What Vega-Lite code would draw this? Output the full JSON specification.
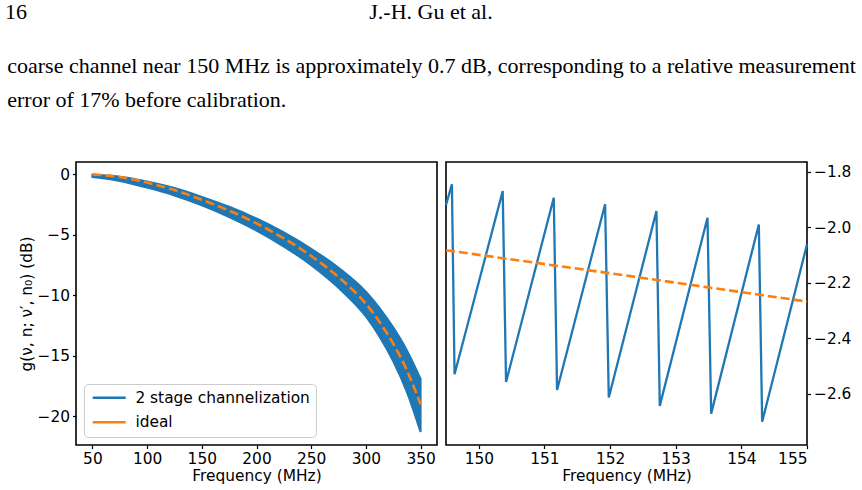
{
  "$schema": "https://vega.github.io/schema/vega-lite/v6.json",
  "background": "white",
  "padding": {"left": 5, "top": 0, "right": 0, "bottom": 0},
  "config": {
    "view": {"stroke": null},
    "axis": {
      "labelFont": "DejaVu Sans", "labelFontSize": 15.4, "labelColor": "black",
      "titleFont": "DejaVu Sans", "titleFontSize": 15.4, "titleFontWeight": "normal", "titleColor": "black",
      "tickColor": "black", "tickSize": 3.5, "tickWidth": 1.2,
      "domain": false, "grid": false, "labelPadding": 2.5, "titlePadding": 2
    },
    "axisY": {"titlePadding": 3, "labelPadding": 3},
    "legend": {"labelFont": "DejaVu Sans", "labelFontSize": 15.4, "labelColor": "black"},
    "title": {"font": "Liberation Serif", "fontWeight": "normal", "color": "black"}
  },
  "spacing": 31,
  "vconcat": [
    {
      "width": 710,
      "height": 24,
      "title": {"text": "16", "orient": "left", "angle": 0, "anchor": "middle", "align": "left", "baseline": "middle", "offset": 49, "fontSize": 22},
      "data": {"values": [{"text": "J.-H. Gu et al."}]},
      "mark": {"type": "text", "font": "Liberation Serif", "fontSize": 22, "color": "black"},
      "encoding": {"text": {"field": "text"}}
    },
    {
      "title": {
        "text": [
          "coarse channel near 150 MHz is approximately 0.7 dB, corresponding to a relative measurement",
          "error of 17% before calibration."
        ],
        "anchor": "start", "fontSize": 22, "lineHeight": 34, "offset": 49, "dx": -11
      },
      "spacing": 2,
      "resolve": {"scale": {"color": "independent"}, "legend": {"color": "independent"}},
      "hconcat": [
        {
          "width": 361,
          "height": 283,
          "view": {"stroke": "black", "strokeWidth": 1.6},
          "layer": [
            {
              "data": {"values": [
                {"freq": 50, "upper": -0.04, "lower": -0.22},
                {"freq": 75, "upper": -0.19, "lower": -0.55},
                {"freq": 100, "upper": -0.58, "lower": -1.1},
                {"freq": 125, "upper": -1.13, "lower": -1.75},
                {"freq": 150, "upper": -1.86, "lower": -2.56},
                {"freq": 175, "upper": -2.68, "lower": -3.53},
                {"freq": 200, "upper": -3.65, "lower": -4.65},
                {"freq": 225, "upper": -4.8, "lower": -5.97},
                {"freq": 250, "upper": -6.15, "lower": -7.5},
                {"freq": 275, "upper": -7.72, "lower": -9.38},
                {"freq": 300, "upper": -9.7, "lower": -11.75},
                {"freq": 312.5, "upper": -11.05, "lower": -13.42},
                {"freq": 325, "upper": -12.65, "lower": -15.45},
                {"freq": 337.5, "upper": -14.55, "lower": -18.0},
                {"freq": 350, "upper": -16.9, "lower": -21.3}
              ]},
              "mark": {"type": "area", "interpolate": "monotone", "stroke": "#1f77b4", "strokeWidth": 2, "fillOpacity": 1},
              "encoding": {
                "x": {"field": "freq", "type": "quantitative",
                      "scale": {"domain": [35, 365], "nice": false, "zero": false},
                      "axis": {"values": [50, 100, 150, 200, 250, 300, 350], "format": "d", "title": "Frequency (MHz)"}},
                "y": {"field": "upper", "type": "quantitative",
                      "scale": {"domain": [-22.37, 1.02], "nice": false, "zero": false},
                      "axis": {"values": [0, -5, -10, -15, -20], "format": "d", "title": "g(ν, n; ν′, n₀) (dB)"}},
                "y2": {"field": "lower"},
                "color": {
                  "datum": "2 stage channelization", "type": "nominal",
                  "scale": {"domain": ["2 stage channelization", "ideal"], "range": ["#1f77b4", "#ff7f0e"]},
                  "legend": {
                    "title": null, "orient": "bottom-left", "offset": 8, "padding": 6,
                    "fillColor": "rgba(255,255,255,0.8)", "strokeColor": "#cccccc", "cornerRadius": 4,
                    "symbolType": "M-1,0H5.6", "symbolSize": 100, "symbolStrokeWidth": 2.5,
                    "labelOffset": 30, "rowPadding": 7.5, "labelLimit": 400,
                    "encode": {"symbols": {"update": {
                      "stroke": [
                        {"test": "datum.value === 'ideal'", "value": "#ff7f0e"},
                        {"value": "#1f77b4"}
                      ],
                      "shape": [
                        {"test": "datum.value === 'ideal'", "value": "M-1,0H0.8M1.6,0H3.4M4.2,0H5.6"},
                        {"value": "M-1,0H5.6"}
                      ],
                      "fill": {"value": "transparent"}
                    }}}
                  }
                }
              }
            },
            {
              "data": {"values": [
                {"freq": 50, "g": 0.0},
                {"freq": 75, "g": -0.22},
                {"freq": 100, "g": -0.68},
                {"freq": 125, "g": -1.3},
                {"freq": 150, "g": -2.1},
                {"freq": 175, "g": -3.0},
                {"freq": 200, "g": -4.05},
                {"freq": 225, "g": -5.3},
                {"freq": 250, "g": -6.75},
                {"freq": 275, "g": -8.5},
                {"freq": 300, "g": -10.7},
                {"freq": 312.5, "g": -12.2},
                {"freq": 325, "g": -14.0},
                {"freq": 337.5, "g": -16.2},
                {"freq": 350, "g": -19.0}
              ]},
              "mark": {"type": "line", "interpolate": "monotone", "strokeDash": [9, 4], "strokeWidth": 2.6},
              "encoding": {
                "x": {"field": "freq", "type": "quantitative"},
                "y": {"field": "g", "type": "quantitative"},
                "color": {"datum": "ideal", "type": "nominal"}
              }
            }
          ]
        },
        {
          "width": 361,
          "height": 283,
          "view": {"stroke": "black", "strokeWidth": 1.6},
          "layer": [
            {
              "data": {"values": [
                {"freq": 149.5, "g": -1.92},
                {"freq": 149.59, "g": -1.845},
                {"freq": 149.63, "g": -2.53},
                {"freq": 150.364, "g": -1.87},
                {"freq": 150.415, "g": -2.558},
                {"freq": 151.142, "g": -1.894},
                {"freq": 151.192, "g": -2.587},
                {"freq": 151.924, "g": -1.917},
                {"freq": 151.98, "g": -2.614},
                {"freq": 152.706, "g": -1.942},
                {"freq": 152.757, "g": -2.644},
                {"freq": 153.484, "g": -1.966},
                {"freq": 153.54, "g": -2.672},
                {"freq": 154.266, "g": -1.99},
                {"freq": 154.317, "g": -2.701},
                {"freq": 155.0, "g": -2.062}
              ]},
              "mark": {"type": "line", "color": "#1f77b4", "strokeWidth": 2.3},
              "encoding": {
                "x": {"field": "freq", "type": "quantitative",
                      "scale": {"domain": [149.5, 155], "nice": false, "zero": false},
                      "axis": {"values": [150, 151, 152, 153, 154, 155], "format": "d", "title": "Frequency (MHz)"}},
                "y": {"field": "g", "type": "quantitative",
                      "scale": {"domain": [-2.785, -1.765], "nice": false, "zero": false},
                      "axis": {"orient": "right", "values": [-1.8, -2.0, -2.2, -2.4, -2.6], "format": ".1f", "title": null}}
              }
            },
            {
              "data": {"values": [
                {"freq": 149.5, "g": -2.083},
                {"freq": 152.0, "g": -2.166},
                {"freq": 155.0, "g": -2.268}
              ]},
              "mark": {"type": "line", "color": "#ff7f0e", "strokeDash": [9, 4], "strokeWidth": 2.6},
              "encoding": {
                "x": {"field": "freq", "type": "quantitative"},
                "y": {"field": "g", "type": "quantitative"}
              }
            }
          ]
        }
      ]
    }
  ]
}
